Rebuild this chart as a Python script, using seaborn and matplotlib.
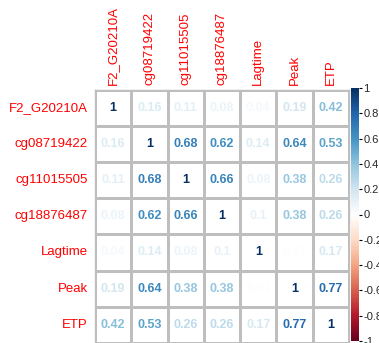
import numpy as np
import pandas as pd
import matplotlib
matplotlib.use("Agg")
import matplotlib.pyplot as plt
import matplotlib.colors as mcolors
import seaborn as sns

variables = ["F2_G20210A", "cg08719422", "cg11015505", "cg18876487",
             "Lagtime", "Peak", "ETP"]

row_f2 = [1, 0.16, 0.11, 0.08, 0.04, 0.19, 0.42]
row_cg087 = [0.16, 1, 0.68, 0.62, 0.14, 0.64, 0.53]
row_cg110 = [0.11, 0.68, 1, 0.66, 0.08, 0.38, 0.26]
row_cg188 = [0.08, 0.62, 0.66, 1, 0.1, 0.38, 0.26]
row_lag = [0.04, 0.14, 0.08, 0.1, 1, 0.01, 0.17]
row_peak = [0.19, 0.64, 0.38, 0.38, 0.01, 1, 0.77]
row_etp = [0.42, 0.53, 0.26, 0.26, 0.17, 0.77, 1]

cbar_ticks = [1, 0.8, 0.6, 0.4, 0.2, 0, -0.2, -0.4, -0.6, -0.8, -1]

corr = pd.DataFrame([row_f2, row_cg087, row_cg110, row_cg188,
                     row_lag, row_peak, row_etp],
                    index=variables, columns=variables)

# Diverging red-white-blue palette (corrplot's COL2 "RdBu")
rdbu = mcolors.LinearSegmentedColormap.from_list(
    "rdbu_corr",
    ["#67001F", "#B2182B", "#D6604D", "#F4A582", "#FDDBC7", "#FFFFFF",
     "#D1E5F0", "#92C5DE", "#4393C3", "#2166AC", "#053061"], N=200)
norm = mcolors.Normalize(vmin=-1, vmax=1)

labels = corr.map(lambda v: f"{v:g}").values

W, H, DPI = 379, 343, 100
fig = plt.figure(figsize=(W / DPI, H / DPI), dpi=DPI)
sns.set_style("white")
plt.rcParams["font.family"] = ["Liberation Sans", "DejaVu Sans"]

ax = fig.add_axes([95 / W, 0 / H, 254 / W, 253.5 / H])
white = mcolors.ListedColormap(["white"])
sns.heatmap(corr, ax=ax, cmap=white, cbar=False, annot=labels, fmt="",
            linewidths=1.0, linecolor="#BEBEBE", square=False,
            annot_kws={"fontsize": 9, "fontweight": "bold"})

# colour each coefficient by its value
flat = corr.values.flatten()
for txt, v in zip(ax.texts, flat):
    txt.set_color(rdbu(norm(v)))

ax.xaxis.tick_top()
ax.set_xticklabels(variables, rotation=90, color="red", fontsize=9.5)
ax.set_yticklabels(variables, rotation=0, color="red", fontsize=9.5)
ax.tick_params(axis="x", length=0, pad=3.5)
ax.tick_params(axis="y", length=0, pad=5)
ax.set_xlabel("")
ax.set_ylabel("")
for s in ax.spines.values():
    s.set_visible(True)
    s.set_color("#BEBEBE")
    s.set_linewidth(1.0)

# colour legend
cax = fig.add_axes([351 / W, 2 / H, 8 / W, 253 / H])
sm = matplotlib.cm.ScalarMappable(norm=norm, cmap=rdbu)
cb = fig.colorbar(sm, cax=cax, ticks=cbar_ticks)
cb.ax.set_yticklabels([f"{t:g}" for t in cbar_ticks], fontsize=8)
cb.ax.tick_params(length=2.5, width=0.8, pad=0.8, color="black")
cb.outline.set_visible(False)

fig.savefig("out.png", dpi=DPI)
